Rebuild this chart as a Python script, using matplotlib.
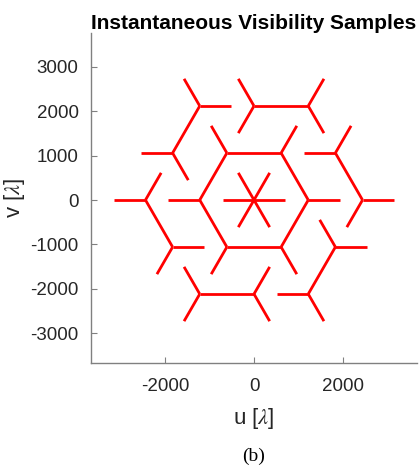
import numpy as np
import matplotlib.pyplot as plt

plt.rcParams['font.family'] = ['Liberation Sans', 'DejaVu Sans']
plt.rcParams['mathtext.fontset'] = 'stix'
plt.rcParams['axes.unicode_minus'] = False

# junction points of the visibility tracks [lambda]
node_u = [-1220, 0, 1220,
          -1830, -610, 610, 1830,
          -2440, -1220, 0, 1220, 2440,
          -1830, -610, 610, 1830,
          -1220, 0, 1220]
node_v = [2114, 2114, 2114,
          1057, 1057, 1057, 1057,
          0, 0, 0, 0, 0,
          -1057, -1057, -1057, -1057,
          -2114, -2114, -2114]

# free arms leaving each junction (direction in degrees)
node_arms = [[0, 120], [120, 240], [60, 300],
             [180, 300], [120], [60], [180, 60],
             [180, 60], [180], [0, 60, 120, 180, 240, 300], [0], [0, 240],
             [0, 240], [240], [300], [120, 0],
             [120, 240], [60, 300], [180, 300]]
arm_len = 705

# long tracks joining two junctions (node indices)
links = [(0, 3), (1, 2), (4, 5), (4, 8), (5, 10), (6, 11),
         (7, 12), (8, 13), (10, 14), (13, 14), (15, 18), (16, 17)]

fig = plt.figure(figsize=(4.2, 4.7), dpi=100)
ax = fig.add_axes([91 / 420, 1 - 363 / 470, 326 / 420, 330 / 470])

red = '#ff0000'
for i, j in links:
    ax.plot([node_u[i], node_u[j]], [node_v[i], node_v[j]], color=red, lw=2,
            solid_capstyle='butt')
for u0, v0, arms in zip(node_u, node_v, node_arms):
    for a in arms:
        t = np.deg2rad(a)
        ax.plot([u0, u0 + arm_len * np.cos(t)], [v0, v0 + arm_len * np.sin(t)],
                color=red, lw=2, solid_capstyle='butt')

ax.set_xlim(-3665, 3665)
ax.set_ylim(-3665, 3755)
ax.set_xticks([-2000, 0, 2000])
ax.set_yticks([-3000, -2000, -1000, 0, 1000, 2000, 3000])

for side in ['top', 'right']:
    ax.spines[side].set_visible(False)
for side in ['left', 'bottom']:
    ax.spines[side].set_color('#808080')
    ax.spines[side].set_linewidth(1)
ax.tick_params(direction='in', length=4, color='#808080', labelsize=13.5,
               labelcolor='#262626')
ax.tick_params(axis='y', pad=9)
ax.tick_params(axis='x', pad=11)

ax.set_title('Instantaneous Visibility Samples', fontsize=15,
             fontweight='bold', pad=3)
ax.set_xlabel(r'u [$\lambda$]', fontsize=16, color='#262626', labelpad=8)
ax.set_ylabel(r'v [$\lambda$]', fontsize=16, color='#262626', labelpad=2)

fig.text(254 / 420, 1 - 456 / 470, '(b)', ha='center', va='center',
         fontsize=14, family='Liberation Serif')

fig.savefig('out.png', dpi=100)
